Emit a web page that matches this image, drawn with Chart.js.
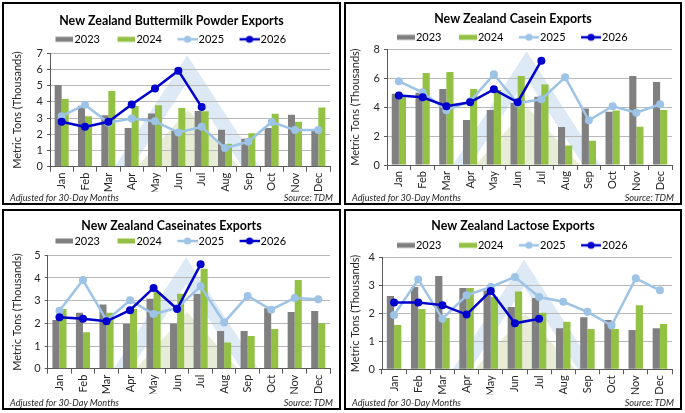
<!DOCTYPE html>
<html>
<head>
<meta charset="utf-8">
<script src="https://cdn.jsdelivr.net/npm/chart.js@4"></script>
<style>
  html, body { margin: 0; padding: 0; background: #fff; }
  body { width: 685px; height: 413px; position: relative; overflow: hidden; font-family: Lato, "Open Sans", sans-serif; }
  canvas { position: absolute; }
  .frame { position: absolute; border: 2px solid #000; box-sizing: border-box; pointer-events: none; }
  .foot { position: absolute; font-style: italic; font-size: 9.2px; color: #262626; white-space: nowrap; line-height: 12px; }
</style>
</head>
<body>
<canvas id="c1"></canvas>
<canvas id="c2"></canvas>
<canvas id="c3"></canvas>
<canvas id="c4"></canvas>
<script>
// ---------- DATA ----------
const months = ['Jan','Feb','Mar','Apr','May','Jun','Jul','Aug','Sep','Oct','Nov','Dec'];
const seriesNames = ['2023','2024','2025','2026'];

const buttermilk2023 = [5.05, 3.77, 3.17, 2.39, 3.29, 2.2, 3.44, 2.28, 1.72, 2.39, 3.21, 2.22];
const buttermilk2024 = [4.18, 3.12, 4.67, 3.74, 3.79, 3.62, 3.43, 1.42, 2.06, 3.27, 2.78, 3.66];
const buttermilk2025 = [3.12, 3.83, 2.72, 2.97, 2.8, 2.11, 2.46, 1.15, 1.54, 2.76, 2.26, 2.27];
const buttermilk2026 = [2.78, 2.46, 2.77, 3.84, 4.83, 5.93, 3.68];

const casein2023 = [4.92, 5.0, 5.26, 3.11, 3.8, 4.3, 4.72, 2.63, 3.9, 3.69, 6.16, 5.74];
const casein2024 = [4.68, 6.36, 6.43, 5.26, 5.19, 6.16, 5.56, 1.34, 1.68, 3.76, 2.65, 3.8];
const casein2025 = [5.79, 5.03, 3.79, 4.4, 6.27, 4.27, 4.54, 6.06, 3.09, 4.06, 3.62, 4.2];
const casein2026 = [4.8, 4.68, 4.06, 4.34, 5.23, 4.34, 7.21];

const caseinates2023 = [2.15, 2.47, 2.83, 1.98, 3.08, 1.99, 3.29, 1.66, 1.66, 2.67, 2.5, 2.54];
const caseinates2024 = [2.63, 1.61, 2.47, 2.63, 3.38, 3.3, 4.41, 1.15, 1.44, 1.75, 3.91, 2.0];
const caseinates2025 = [2.55, 3.91, 2.13, 3.02, 2.41, 2.68, 3.63, 2.04, 3.21, 2.6, 3.12, 3.06];
const caseinates2026 = [2.27, 2.2, 2.09, 2.58, 3.56, 2.63, 4.6];

const lactose2023 = [2.63, 2.95, 3.34, 2.91, 2.82, 2.23, 2.56, 1.47, 1.87, 1.77, 1.41, 1.47];
const lactose2024 = [1.59, 2.16, 1.84, 2.91, 2.6, 2.79, 2.03, 1.7, 1.44, 1.44, 2.3, 1.62];
const lactose2025 = [1.95, 3.22, 1.81, 2.65, 2.95, 3.31, 2.59, 2.42, 2.06, 1.57, 3.26, 2.83];
const lactose2026 = [2.39, 2.39, 2.3, 1.96, 2.81, 1.65, 1.81];

const titles = [
  'New Zealand Buttermilk Powder Exports',
  'New Zealand Casein Exports',
  'New Zealand Caseinates Exports',
  'New Zealand Lactose Exports'
];
const yMax = [7, 8, 5, 4];
const yStep = [1, 2, 1, 1];
const yAxisTitle = 'Metric Tons (Thousands)';
const footLeft = 'Adjusted for 30-Day Months';
const footRight = 'Source: TDM';

// ---------- STYLE / LAYOUT ----------
const COLORS = ['#808080', '#92C143', '#9DC3E6', '#0000CC'];
const FONT = 'Lato, "Open Sans", sans-serif';
const panels = [
  {id:'c1', x:3,   y:3,   w:337, h:201, T:18,   L:36.3, C:50.3, B:163.7, left:47,   ytx:14.3, foot:194},
  {id:'c2', x:345, y:3,   w:336, h:201, T:16.3, L:34.3, C:46.3, B:162,   left:42,   ytx:10.3, foot:194.3},
  {id:'c3', x:3,   y:210, w:337, h:199, T:16,   L:31,   C:45.3, B:158.7, left:44.7, ytx:14.3, foot:192.7},
  {id:'c4', x:345, y:210, w:336, h:199, T:16,   L:35.3, C:47.7, B:159.3, left:37,   ytx:10.3, foot:192}
];
const dataSets = [
  [buttermilk2023, buttermilk2024, buttermilk2025, buttermilk2026],
  [casein2023, casein2024, casein2025, casein2026],
  [caseinates2023, caseinates2024, caseinates2025, caseinates2026],
  [lactose2023, lactose2024, lactose2025, lactose2026]
];

function makeSwatch(kind, color) {
  const c = document.createElement('canvas');
  c.width = 21; c.height = 10;
  const g = c.getContext('2d');
  if (kind === 'bar') {
    g.fillStyle = color;
    g.fillRect(3, 2.5, 18, 5);
  } else {
    g.strokeStyle = color; g.lineWidth = 2.5;
    g.beginPath(); g.moveTo(1, 5); g.lineTo(21, 5); g.stroke();
    g.fillStyle = color;
    g.beginPath(); g.arc(11, 5, 3.6, 0, Math.PI * 2); g.fill();
  }
  return c;
}
const swatches = [
  makeSwatch('bar', COLORS[0]), makeSwatch('bar', COLORS[1]),
  makeSwatch('line', COLORS[2]), makeSwatch('line', COLORS[3])
];

const watermark = {
  id: 'watermark',
  beforeDraw(chart) {
    const a = chart.chartArea; if (!a) return;
    const ctx = chart.ctx;
    ctx.save();
    ctx.beginPath(); ctx.rect(a.left, a.top, a.right - a.left, a.bottom - a.top); ctx.clip();
    const h = a.bottom - a.top;
    const cx = a.left + (a.right - a.left) * 0.49;
    const ay = a.top + 2, s = 0.65, t = 27;
    const iy = ay + t;
    ctx.beginPath();
    ctx.moveTo(cx, ay);
    ctx.lineTo(cx + (a.bottom - ay) * s, a.bottom);
    ctx.lineTo(cx - (a.bottom - ay) * s, a.bottom);
    ctx.closePath();
    ctx.moveTo(cx, iy);
    ctx.lineTo(cx - (a.bottom - iy) * s, a.bottom);
    ctx.lineTo(cx + (a.bottom - iy) * s, a.bottom);
    ctx.closePath();
    ctx.fillStyle = '#DDEAF6';
    ctx.fill('evenodd');
    const gy = a.bottom - h * 0.5, gw = h * 0.5 * 0.9;
    ctx.beginPath();
    ctx.moveTo(cx + 1, gy);
    ctx.lineTo(cx + 1 + gw, a.bottom);
    ctx.lineTo(cx + 1 - gw, a.bottom);
    ctx.closePath();
    ctx.fillStyle = '#E7ECD6';
    ctx.fill();
    ctx.restore();
  }
};

panels.forEach((p, i) => {
  const cv = document.getElementById(p.id);
  cv.width = p.w; cv.height = p.h;
  cv.style.left = p.x + 'px'; cv.style.top = p.y + 'px';
  cv.style.width = p.w + 'px'; cv.style.height = p.h + 'px';

  const frame = document.createElement('div');
  frame.className = 'frame';
  frame.style.left = (p.x - 1) + 'px'; frame.style.top = (p.y - 1) + 'px';
  frame.style.width = (p.w + 2) + 'px'; frame.style.height = (p.h + 2) + 'px';
  document.body.appendChild(frame);

  const fl = document.createElement('div');
  fl.className = 'foot'; fl.textContent = footLeft;
  fl.style.left = (p.x + 7) + 'px'; fl.style.top = (p.y + p.foot - 5.5) + 'px';
  document.body.appendChild(fl);
  const fr = document.createElement('div');
  fr.className = 'foot'; fr.textContent = footRight;
  fr.style.right = (685 - (p.x + p.w - 7)) + 'px'; fr.style.top = (p.y + p.foot - 5.5) + 'px';
  document.body.appendChild(fr);

  const d = dataSets[i];
  const titleSize = 12.4;
  const titleLH = titleSize * 1.2;
  const legPad = 19, legFont = 11;
  const legTop = p.L - legPad - legFont / 2;
  const tpt = p.T - titleLH / 2;
  const tpb = legTop - tpt - titleLH;
  const XH = 25;

  new Chart(cv, {
    data: {
      labels: months,
      datasets: [
        {type:'bar', label: seriesNames[0], data: d[0], backgroundColor: COLORS[0], order: 3,
         categoryPercentage: 0.6, barPercentage: 1.0},
        {type:'bar', label: seriesNames[1], data: d[1], backgroundColor: COLORS[1], order: 3,
         categoryPercentage: 0.6, barPercentage: 1.0},
        {type:'line', label: seriesNames[2], data: d[2], borderColor: COLORS[2], backgroundColor: COLORS[2],
         borderWidth: 2.5, pointRadius: 4, pointBackgroundColor: COLORS[2], pointBorderColor: COLORS[2],
         pointBorderWidth: 0, tension: 0, order: 2},
        {type:'line', label: seriesNames[3], data: d[3], borderColor: COLORS[3], backgroundColor: COLORS[3],
         borderWidth: 2.5, pointRadius: 4, pointBackgroundColor: COLORS[3], pointBorderColor: COLORS[3],
         pointBorderWidth: 0, tension: 0, order: 1}
      ]
    },
    options: {
      responsive: false,
      animation: false,
      devicePixelRatio: window.devicePixelRatio || 1,
      layout: { padding: { top: 0, left: 0, right: 0, bottom: p.h - p.B - XH } },
      plugins: {
        tooltip: { enabled: false },
        title: {
          display: true, text: titles[i], color: '#000',
          font: { family: FONT, size: titleSize, weight: 'bold', lineHeight: 1.2 },
          padding: { top: tpt, bottom: tpb }
        },
        legend: {
          display: true, position: 'top', maxHeight: p.C - legTop,
          labels: {
            usePointStyle: true, pointStyleWidth: 12, padding: legPad,
            color: '#000', font: { family: FONT, size: legFont },
            sort: (a, b) => a.datasetIndex - b.datasetIndex,
            generateLabels: (chart) => {
              const items = Chart.defaults.plugins.legend.labels.generateLabels(chart);
              items.forEach(it => { it.pointStyle = swatches[it.datasetIndex]; });
              return items;
            }
          }
        }
      },
      scales: {
        x: {
          type: 'category', offset: true,
          grid: { offset: true, drawOnChartArea: false, tickLength: 5, color: '#595959', tickColor: '#595959' },
          border: { color: '#595959', width: 1 },
          ticks: { minRotation: 90, maxRotation: 90, autoSkip: false, padding: 1,
                   color: '#262626', font: { family: FONT, size: 11 } },
          afterFit: (s) => { s.height = XH; }
        },
        y: {
          min: 0, max: yMax[i],
          ticks: { stepSize: yStep[i], padding: 4, color: '#262626', font: { family: FONT, size: 11 } },
          grid: { color: '#B8B8B8', tickLength: 3, tickColor: '#595959' },
          border: { color: '#595959', width: 1 },
          title: { display: true, text: yAxisTitle, color: '#262626',
                   font: { family: FONT, size: 11, lineHeight: 1.2 },
                   padding: { top: p.ytx - 6.6, bottom: 0 } },
          afterFit: (s) => { s.width = p.left; }
        },
        spacer: {
          position: 'right', display: true,
          ticks: { display: false }, grid: { display: false, drawTicks: false },
          border: { display: false },
          afterFit: (s) => { s.width = p.w - 327; }
        }
      }
    },
    plugins: [watermark]
  });
});
</script>
</body>
</html>
